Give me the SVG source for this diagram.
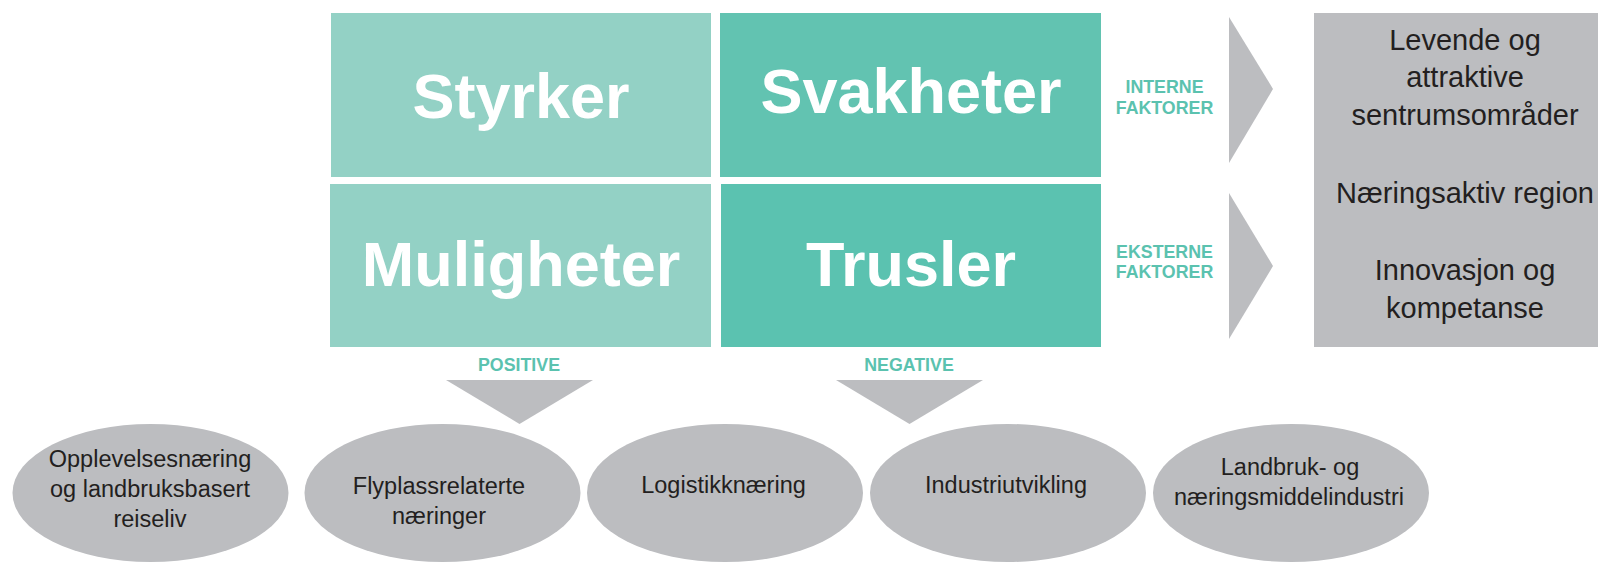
<svg xmlns="http://www.w3.org/2000/svg" width="1598" height="562" viewBox="0 0 1598 562">
  <style>
    .big { font-family: "Liberation Sans", Arial, sans-serif; font-weight: bold; font-size: 63px; fill: #ffffff; text-anchor: middle; }
    .lbl { font-family: "Liberation Sans", Arial, sans-serif; font-weight: bold; font-size: 17.8px; fill: #5BC2AF; text-anchor: middle; }
    .gt { font-family: "Liberation Sans", Arial, sans-serif; font-size: 29px; fill: #231F20; text-anchor: middle; }
    .et { font-family: "Liberation Sans", Arial, sans-serif; font-size: 23.5px; fill: #231F20; text-anchor: middle; }
    .gray { fill: #BCBDC0; }
  </style>
  <rect width="1598" height="562" fill="#ffffff"/>

  <g id="styrker">
    <rect x="331" y="13" width="380" height="164" fill="#93D1C5"/>
    <text class="big" x="521" y="118">Styrker</text>
  </g>
  <g id="svakheter">
    <rect x="720" y="13" width="381" height="164" fill="#62C3B1"/>
    <text class="big" x="911" y="113">Svakheter</text>
  </g>
  <g id="muligheter">
    <rect x="330" y="184" width="381" height="163" fill="#93D1C5"/>
    <text class="big" x="521" y="286">Muligheter</text>
  </g>
  <g id="trusler">
    <rect x="721" y="184" width="380" height="163" fill="#5BC2B0"/>
    <text class="big" x="911" y="286">Trusler</text>
  </g>

  <g id="label-interne">
    <text class="lbl" x="1164.5" y="93">INTERNE</text>
    <text class="lbl" x="1164.5" y="114">FAKTORER</text>
  </g>
  <g id="label-eksterne">
    <text class="lbl" x="1164.5" y="258">EKSTERNE</text>
    <text class="lbl" x="1164.5" y="278">FAKTORER</text>
  </g>
  <g id="label-positive">
    <text class="lbl" x="519" y="371">POSITIVE</text>
  </g>
  <g id="label-negative">
    <text class="lbl" x="909" y="371">NEGATIVE</text>
  </g>

  <g id="connectors" class="gray">
    <polygon points="1229,17 1273,89 1229,163"/>
    <polygon points="1229,193 1273,266 1229,339"/>
    <polygon points="446,380 593,380 519.5,424"/>
    <polygon points="836,380 983,380 909.5,424"/>
  </g>

  <g id="goals">
    <rect class="gray" x="1314" y="13" width="300" height="334"/>
    <text class="gt" x="1465" y="50">Levende og</text>
    <text class="gt" x="1465" y="87">attraktive</text>
    <text class="gt" x="1465" y="125">sentrumsområder</text>
    <text class="gt" x="1465" y="203">Næringsaktiv region</text>
    <text class="gt" x="1465" y="280">Innovasjon og</text>
    <text class="gt" x="1465" y="318">kompetanse</text>
  </g>

  <g id="opplevelse">
    <ellipse class="gray" cx="150.5" cy="493" rx="138" ry="69"/>
    <text class="et" x="150" y="467">Opplevelsesnæring</text>
    <text class="et" x="150" y="497">og landbruksbasert</text>
    <text class="et" x="150" y="527">reiseliv</text>
  </g>
  <g id="flyplass">
    <ellipse class="gray" cx="442.5" cy="493" rx="138" ry="69"/>
    <text class="et" x="439" y="494">Flyplassrelaterte</text>
    <text class="et" x="439" y="524">næringer</text>
  </g>
  <g id="logistikk">
    <ellipse class="gray" cx="725" cy="493" rx="138" ry="69"/>
    <text class="et" x="723.5" y="493">Logistikknæring</text>
  </g>
  <g id="industri">
    <ellipse class="gray" cx="1008" cy="493" rx="138" ry="69"/>
    <text class="et" x="1006" y="493">Industriutvikling</text>
  </g>
  <g id="landbruk">
    <ellipse class="gray" cx="1291" cy="493" rx="138" ry="69"/>
    <text class="et" x="1290" y="475">Landbruk- og</text>
    <text class="et" x="1289" y="505">næringsmiddelindustri</text>
  </g>
</svg>
